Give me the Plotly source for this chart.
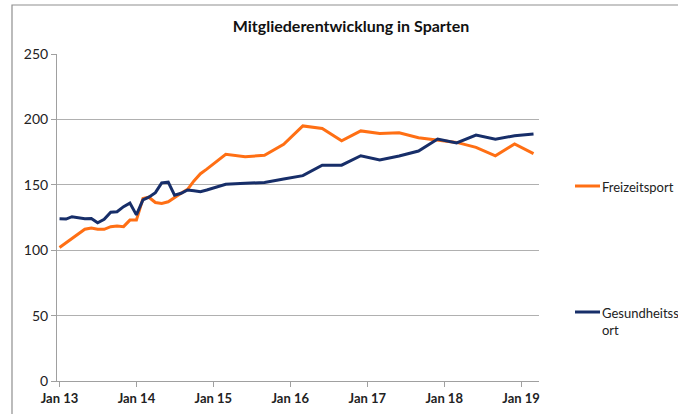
import plotly.graph_objects as go

# ---- data ----
monthly_dates = [f"2013-{m:02d}-01" for m in range(1, 13)] + [f"2014-{m:02d}-01" for m in range(1, 13)]
quarterly_dates = []
for y in range(2015, 2019):
    for m in (3, 6, 9, 12):
        quarterly_dates.append(f"{y}-{m:02d}-01")
quarterly_dates.append("2019-03-01")
dates = monthly_dates + quarterly_dates

freizeitsport = [102, 105.5, 109, 112.5, 116, 117, 116, 116, 118, 118.5, 118, 123,
                 123, 139.5, 140.5, 136.5, 135.8, 137, 140.5, 143.5, 146.5, 153, 158.5, 162,
                 173.3, 171.5, 172.5, 181, 195, 193, 183.7, 191.2, 189.3, 189.8, 186,
                 184.2, 182.4, 178.6, 172.2, 181.2, 173.8]
gesundheitssport = [124, 123.8, 125.6, 124.9, 124, 124.3, 121, 123.6, 129, 129.4, 133.3, 136,
                    127, 138.5, 140.5, 144, 151.5, 152, 142, 143.5, 146, 145.5, 144.7, 146,
                    150.4, 151.1, 151.8, 154.4, 157, 165, 165, 172.2, 169, 172, 175.8,
                    185, 182, 188, 184.8, 187.5, 188.8]

tick_vals = [f"{y}-01-01" for y in range(2013, 2020)]
tick_text = ["Jan 13", "Jan 14", "Jan 15", "Jan 16", "Jan 17", "Jan 18", "Jan 19"]
series_names = ["Freizeitsport", "Gesundheitss<br>ort"]
colors = ["#FF6F14", "#172E69"]
title = "Mitgliederentwicklung in Sparten"

# ---- figure ----
W, H = 678, 414
L, R, T, B = 57, 539, 54, 381
fig = go.Figure()
for vals, col in zip([freizeitsport, gesundheitssport], colors):
    fig.add_trace(go.Scatter(x=dates, y=vals, mode="lines",
                             line=dict(color=col, width=3), showlegend=False))

def px_x(p):
    return (p - L) / (R - L)

def px_y(p):
    return (B - p) / (B - T)

# legend (drawn manually to match spacing)
legend_y = [186, 312]
for name, col, ly in zip(series_names, colors, legend_y):
    fig.add_shape(type="line", xref="paper", yref="paper",
                  x0=px_x(575), x1=px_x(600), y0=px_y(ly), y1=px_y(ly),
                  line=dict(color=col, width=3))
    fig.add_annotation(xref="paper", yref="paper", x=px_x(600), y=px_y(ly - 9),
                       xanchor="left", yanchor="top", text=name, showarrow=False,
                       align="left", font=dict(family="Lato", size=13, color="#222"))

# outer chart border
fig.add_shape(type="rect", xref="paper", yref="paper",
              x0=px_x(12), x1=px_x(720), y0=px_y(440), y1=px_y(5),
              line=dict(color="#8f8f8f", width=1.2), layer="below")

fig.update_layout(
    width=W, height=H,
    margin=dict(l=L, r=W - R, t=T, b=H - B, autoexpand=False),
    paper_bgcolor="white", plot_bgcolor="white",
    title=dict(text=f"<b>{title}</b>", x=351 / W, xanchor="center",
               y=1 - 26 / H, yanchor="middle",
               font=dict(family="Lato", size=16, color="#111")),
    font=dict(family="Lato", size=12, color="#222"),
)
fig.update_xaxes(type="date", range=["2012-12-20", "2019-03-27"],
                 tickmode="array", tickvals=tick_vals, ticktext=[f"<b>{t}</b>" for t in tick_text],
                 showgrid=False, showline=True, linecolor="#a0a0a0", linewidth=1,
                 ticks="outside", ticklen=5, tickcolor="#a0a0a0",
                 tickfont=dict(family="Lato", size=13, color="#222"), zeroline=False,
                 automargin=False)
fig.update_yaxes(range=[0, 250], tickvals=[0, 50, 100, 150, 200, 250],
                 showgrid=True, gridcolor="#b0b0b0", gridwidth=1,
                 showline=True, linecolor="#a0a0a0", linewidth=1,
                 ticks="outside", ticklen=5, tickcolor="#a0a0a0",
                 tickfont=dict(family="Lato", size=14, color="#222"), zeroline=False,
                 automargin=False)

fig.write_html("out.html", config={"displayModeBar": False},
               post_script="document.body.style.margin='0';document.body.style.overflow='hidden';")
